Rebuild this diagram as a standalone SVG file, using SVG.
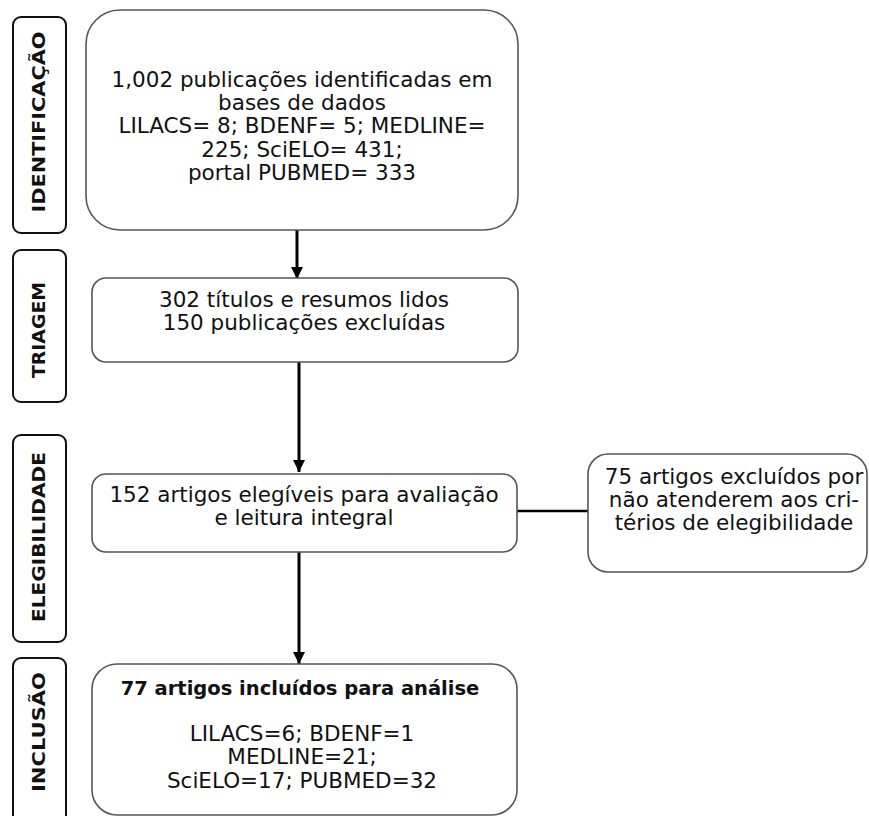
<svg xmlns="http://www.w3.org/2000/svg" width="869" height="816" viewBox="0 0 869 816">
<style>
.bg{fill:#fff}
.lbl{fill:#fff;stroke:#111;stroke-width:2}
.box{fill:#fff;stroke:#555;stroke-width:1.6}
.t{font-family:"DejaVu Sans",sans-serif;font-size:21.5px;fill:#111;text-anchor:middle}
.tb{font-family:"DejaVu Sans",sans-serif;font-size:19.5px;font-weight:bold;fill:#111;text-anchor:middle}
.v{font-family:"DejaVu Sans",sans-serif;font-size:18px;font-weight:bold;fill:#111;text-anchor:middle}
.c{stroke:#000;stroke-width:3;fill:none}
</style>
<defs>
<marker id="ah" markerUnits="userSpaceOnUse" markerWidth="14" markerHeight="12" refX="12" refY="6" orient="auto">
<path d="M0,0 L12,6 L0,12 Z" fill="#000"/>
</marker>
</defs>
<rect class="bg" x="0" y="0" width="869" height="816"/>

<g id="label-identificacao">
<rect class="lbl" x="13" y="17" width="53" height="216" rx="8"/>
<text class="v" transform="translate(45,122) rotate(-90)" textLength="181" lengthAdjust="spacingAndGlyphs">IDENTIFICAÇÃO</text>
</g>
<g id="label-triagem">
<rect class="lbl" x="13" y="250" width="53" height="152" rx="8"/>
<text class="v" transform="translate(45,330) rotate(-90)" textLength="96" lengthAdjust="spacingAndGlyphs">TRIAGEM</text>
</g>
<g id="label-elegibilidade">
<rect class="lbl" x="13" y="435" width="53" height="207" rx="8"/>
<text class="v" transform="translate(45,537) rotate(-90)" textLength="170" lengthAdjust="spacingAndGlyphs">ELEGIBILIDADE</text>
</g>
<g id="label-inclusao">
<rect class="lbl" x="13" y="658" width="53" height="175" rx="8"/>
<text class="v" transform="translate(45,732) rotate(-90)" textLength="120" lengthAdjust="spacingAndGlyphs">INCLUSÃO</text>
</g>

<g id="connectors">
<line class="c" x1="297" y1="230" x2="297" y2="279" marker-end="url(#ah)"/>
<line class="c" x1="299" y1="362" x2="299" y2="472" marker-end="url(#ah)"/>
<line class="c" x1="299" y1="552" x2="299" y2="664" marker-end="url(#ah)"/>
<line stroke="#000" stroke-width="2.5" x1="517" y1="511" x2="588" y2="511"/>
</g>

<g id="box-identificacao">
<rect class="box" x="86" y="10" width="432" height="220" rx="34"/>
<text class="t" x="302" y="87">1,002 publicações identificadas em</text>
<text class="t" x="302" y="110">bases de dados</text>
<text class="t" x="302" y="133">LILACS= 8; BDENF= 5; MEDLINE=</text>
<text class="t" x="302" y="157">225; SciELO= 431;</text>
<text class="t" x="302" y="180">portal PUBMED= 333</text>
</g>

<g id="box-triagem">
<rect class="box" x="92" y="278" width="426" height="84" rx="14"/>
<text class="t" x="304" y="307">302 títulos e resumos lidos</text>
<text class="t" x="304" y="330">150 publicações excluídas</text>
</g>

<g id="box-elegibilidade">
<rect class="box" x="92" y="474" width="425" height="78" rx="14"/>
<text class="t" x="304" y="502">152 artigos elegíveis para avaliação</text>
<text class="t" x="304" y="525">e leitura integral</text>
</g>

<g id="box-excluidos">
<rect class="box" x="588" y="454" width="279" height="118" rx="20"/>
<text class="t" x="734" y="484">75 artigos excluídos por</text>
<text class="t" x="734" y="507">não atenderem aos cri-</text>
<text class="t" x="734" y="530">térios de elegibilidade</text>
</g>

<g id="box-inclusao">
<rect class="box" x="92" y="664" width="425" height="151" rx="25"/>
<text class="tb" x="300" y="695">77 artigos incluídos para análise</text>
<text class="t" x="302" y="741">LILACS=6; BDENF=1</text>
<text class="t" x="302" y="764">MEDLINE=21;</text>
<text class="t" x="302" y="788">SciELO=17; PUBMED=32</text>
</g>
</svg>
